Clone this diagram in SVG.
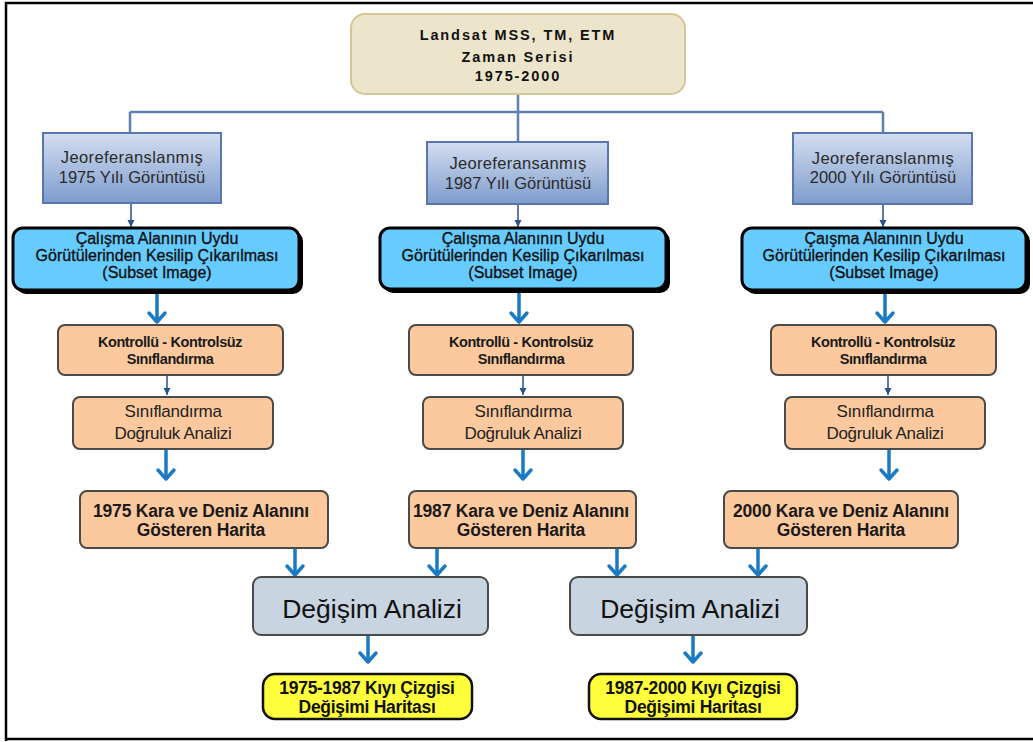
<svg xmlns="http://www.w3.org/2000/svg" width="1033" height="742" viewBox="0 0 1033 742">
<style>
text{font-family:"Liberation Sans",Arial,sans-serif;text-anchor:middle}
.top{fill:#ece5cb;stroke:#d3c797;stroke-width:2}
.topt{font-size:14.5px;font-weight:bold;letter-spacing:1.9px;fill:#111}
.geo{fill:url(#geoG);stroke:#5877b0;stroke-width:2}
.geot{font-size:16.5px;fill:#2a2a2a}
.blue{fill:#66ccff;stroke:#000;stroke-width:3}
.shadow{fill:#000}
.bluet{font-size:16px;fill:#111;stroke:#111;stroke-width:0.35}
.peach{fill:#fbc99d;stroke:#4a4a4a;stroke-width:2}
.kt{font-size:14.5px;font-weight:bold;letter-spacing:-0.4px;fill:#1a1a1a}
.st{font-size:17px;fill:#222;letter-spacing:-0.3px}
.ht{font-size:17.5px;font-weight:bold;fill:#1a1a1a;letter-spacing:-0.2px}
.deg{fill:#c9d4e1;stroke:#4a4a4a;stroke-width:2}
.degt{font-size:26.5px;fill:#111}
.yel{fill:#ffff3c;stroke:#111;stroke-width:2.5}
.yt{font-size:17.5px;font-weight:bold;fill:#111;letter-spacing:-0.3px}
.tree{fill:none;stroke:#5d7fb2;stroke-width:2.5}
.thin{fill:none;stroke:#2b4f8f;stroke-width:1.5;marker-end:url(#tri)}
.thick{fill:none;stroke:#1a7ac4;stroke-width:3.5;marker-end:url(#chev)}
</style>
<defs>
<linearGradient id="geoG" x1="0" y1="0" x2="0" y2="1">
<stop offset="0" stop-color="#d3def0"/>
<stop offset="1" stop-color="#7e9ccd"/>
</linearGradient>
<marker id="tri" markerUnits="userSpaceOnUse" markerWidth="8" markerHeight="8" refX="7" refY="3.5" orient="auto">
<path d="M0,0 L7,3.5 L0,7 Z" fill="#2b4f8f"/>
</marker>
<marker id="chev" markerUnits="userSpaceOnUse" markerWidth="14" markerHeight="22" refX="11" refY="11" orient="auto" overflow="visible">
<path d="M2,3 L11,11 L2,19" fill="none" stroke="#1a7ac4" stroke-width="3.5" stroke-linecap="round" stroke-linejoin="round"/>
</marker>
</defs>
<path d="M6,741 V3 H1033 M6,739 H1033" fill="none" stroke="#000" stroke-width="2.5"/>

<g id="connectors">
<path class="tree" d="M518,94 V142 M130,112 H883 M130,112 V133 M883,112 V133"/>
<path class="thin" d="M131,204 V227"/>
<path class="thin" d="M518,204 V227"/>
<path class="thin" d="M883,204 V227"/>
<path class="thick" d="M157,293 V322"/>
<path class="thick" d="M519,293 V322"/>
<path class="thick" d="M885,293 V322"/>
<path class="thin" d="M167,376 V395"/>
<path class="thin" d="M523,376 V395"/>
<path class="thin" d="M888,376 V395"/>
<path class="thick" d="M166,450 V479"/>
<path class="thick" d="M523,450 V479"/>
<path class="thick" d="M889,450 V479"/>
<path class="thick" d="M295,549 V575"/>
<path class="thick" d="M437,549 V575"/>
<path class="thick" d="M617,549 V575"/>
<path class="thick" d="M758,549 V575"/>
<path class="thick" d="M368,636 V662"/>
<path class="thick" d="M693,636 V662"/>
</g>

<g id="n-top">
<rect class="top" x="351" y="14" width="334" height="80" rx="14"/>
<text class="topt" x="518" y="40">Landsat MSS, TM, ETM</text>
<text class="topt" x="518" y="62">Zaman Serisi</text>
<text class="topt" x="518" y="81">1975-2000</text>
</g>

<g id="n-geo1975">
<rect class="geo" x="43" y="133" width="178" height="70"/>
<text class="geot" x="132" y="163" letter-spacing="0.4">Jeoreferanslanmış</text>
<text class="geot" x="132" y="183">1975 Yılı Görüntüsü</text>
</g>
<g id="n-geo1987">
<rect class="geo" x="427" y="142" width="181" height="62"/>
<text class="geot" x="518" y="169" letter-spacing="0.3">Jeoreferansanmış</text>
<text class="geot" x="518" y="189">1987 Yılı Görüntüsü</text>
</g>
<g id="n-geo2000">
<rect class="geo" x="793" y="133" width="179" height="71"/>
<text class="geot" x="883" y="164" letter-spacing="0.4">Jeoreferanslanmış</text>
<text class="geot" x="883" y="183">2000 Yılı Görüntüsü</text>
</g>

<g id="n-sub1975">
<rect class="shadow" x="16" y="231" width="287" height="63" rx="10"/>
<rect class="blue" x="13" y="228" width="286" height="62" rx="10"/>
<text class="bluet" x="157" y="244">Çalışma Alanının Uydu</text>
<text class="bluet" x="157" y="261">Görütülerinden Kesilip Çıkarılması</text>
<text class="bluet" x="157" y="278">(Subset Image)</text>
</g>
<g id="n-sub1987">
<rect class="shadow" x="383" y="231" width="287" height="62" rx="10"/>
<rect class="blue" x="380" y="228" width="286" height="61" rx="10"/>
<text class="bluet" x="523" y="244">Çalışma Alanının Uydu</text>
<text class="bluet" x="523" y="261">Görütülerinden Kesilip Çıkarılması</text>
<text class="bluet" x="523" y="278">(Subset Image)</text>
</g>
<g id="n-sub2000">
<rect class="shadow" x="745" y="231" width="285" height="63" rx="10"/>
<rect class="blue" x="742" y="228" width="284" height="62" rx="10"/>
<text class="bluet" x="884" y="244">Çaışma Alanının Uydu</text>
<text class="bluet" x="884" y="261">Görütülerinden Kesilip Çıkarılması</text>
<text class="bluet" x="884" y="278">(Subset Image)</text>
</g>

<g id="n-kont1975">
<rect class="peach" x="58" y="325" width="225" height="50" rx="7"/>
<text class="kt" x="170" y="347">Kontrollü - Kontrolsüz</text>
<text class="kt" x="170" y="364">Sınıflandırma</text>
</g>
<g id="n-kont1987">
<rect class="peach" x="409" y="325" width="224" height="50" rx="7"/>
<text class="kt" x="521" y="347">Kontrollü - Kontrolsüz</text>
<text class="kt" x="521" y="364">Sınıflandırma</text>
</g>
<g id="n-kont2000">
<rect class="peach" x="771" y="325" width="225" height="50" rx="7"/>
<text class="kt" x="883" y="347">Kontrollü - Kontrolsüz</text>
<text class="kt" x="883" y="364">Sınıflandırma</text>
</g>

<g id="n-dog1975">
<rect class="peach" x="73" y="397" width="200" height="52" rx="7"/>
<text class="st" x="173" y="417">Sınıflandırma</text>
<text class="st" x="173" y="439">Doğruluk Analizi</text>
</g>
<g id="n-dog1987">
<rect class="peach" x="423" y="397" width="200" height="52" rx="7"/>
<text class="st" x="523" y="417">Sınıflandırma</text>
<text class="st" x="523" y="439">Doğruluk Analizi</text>
</g>
<g id="n-dog2000">
<rect class="peach" x="785" y="397" width="200" height="52" rx="7"/>
<text class="st" x="885" y="417">Sınıflandırma</text>
<text class="st" x="885" y="439">Doğruluk Analizi</text>
</g>

<g id="n-har1975">
<rect class="peach" x="80" y="491" width="248" height="57" rx="7"/>
<text class="ht" x="201" y="517">1975 Kara ve Deniz Alanını</text>
<text class="ht" x="201" y="536">Gösteren Harita</text>
</g>
<g id="n-har1987">
<rect class="peach" x="409" y="491" width="227" height="57" rx="7"/>
<text class="ht" x="521" y="517">1987 Kara ve Deniz Alanını</text>
<text class="ht" x="521" y="536">Gösteren Harita</text>
</g>
<g id="n-har2000">
<rect class="peach" x="724" y="491" width="234" height="57" rx="7"/>
<text class="ht" x="841" y="517">2000 Kara ve Deniz Alanını</text>
<text class="ht" x="841" y="536">Gösteren Harita</text>
</g>

<g id="n-deg1">
<rect class="deg" x="253" y="577" width="235" height="58" rx="8"/>
<text class="degt" x="372" y="618">Değişim Analizi</text>
</g>
<g id="n-deg2">
<rect class="deg" x="570" y="577" width="237" height="58" rx="8"/>
<text class="degt" x="690" y="618">Değişim Analizi</text>
</g>

<g id="n-kiyi1">
<rect class="yel" x="263" y="674" width="209" height="45" rx="12"/>
<text class="yt" x="367" y="694">1975-1987 Kıyı Çizgisi</text>
<text class="yt" x="367" y="713">Değişimi Haritası</text>
</g>
<g id="n-kiyi2">
<rect class="yel" x="589" y="674" width="208" height="45" rx="12"/>
<text class="yt" x="693" y="694">1987-2000 Kıyı Çizgisi</text>
<text class="yt" x="693" y="713">Değişimi Haritası</text>
</g>
</svg>
